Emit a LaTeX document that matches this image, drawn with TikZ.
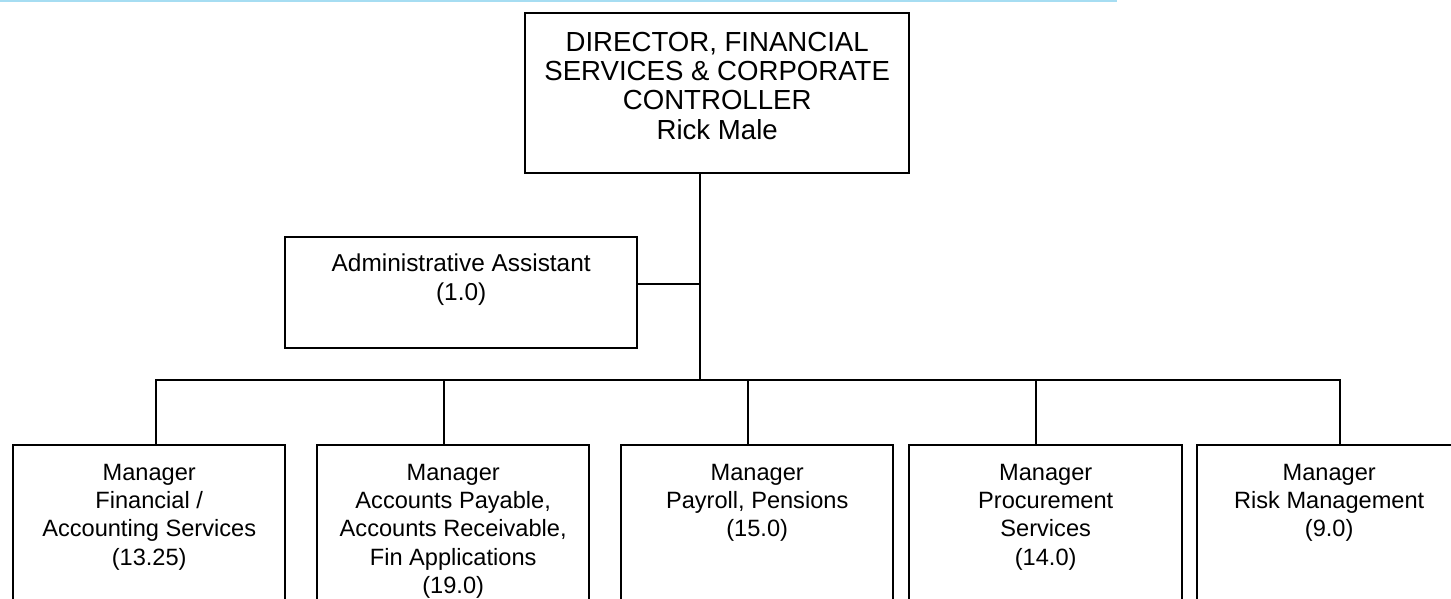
\documentclass[tikz,border=0pt]{standalone}
\usepackage{fontspec}
\setmainfont{Liberation Sans}
\usetikzlibrary{calc}
\definecolor{rulecyan}{RGB}{166,221,242}
\tikzset{post/.style={draw, line width=2.4pt, rectangle, inner sep=0pt, anchor=north west},
  post text/.style={align=center, inner sep=0pt, anchor=north, font=\postfont},
  link/.style={line width=2.4pt, line cap=rect}}
% box with its lines hung from the top: the first baseline sits \postdrop below the edge
\def\Post#1#2#3#4#5#6{%
  \node[post, minimum width=#4pt, minimum height=#5pt] (#1) at (#2,#3) {};
  \node[post text] (#1 text) at ($(#1.north)+(0,\postdrop-22)$) {\rule{0pt}{22pt}#6};
}
\begin{document}
\begin{tikzpicture}[x=1pt, y=-1pt]
\useasboundingbox (0,0) rectangle (1451,598);
\clip (0,0) rectangle (1451,598);
\fill[rulecyan] (0,0) rectangle (1117,1.6);
% director
\def\postfont{\fontsize{27.6}{29.3}\selectfont}
\def\postdrop{39}
\Post{dir}{524}{12}{384}{160}{DIRECTOR, FINANCIAL\\SERVICES \& CORPORATE\\CONTROLLER\\Rick Male}
% assistant
\def\postfont{\fontsize{24.4}{29}\selectfont}
\def\postdrop{35.7}
\Post{adm}{284}{236}{352}{111}{Administrative Assistant\\(1.0)}
% managers
\def\postfont{\fontsize{23.6}{28.3}\selectfont}
\def\postdrop{36}
\Post{m1}{12}{444}{272}{200}{Manager\\Financial /\\Accounting Services\\(13.25)}
\Post{m2}{316}{444}{272}{200}{Manager\\Accounts Payable,\\Accounts Receivable,\\Fin Applications\\(19.0)}
\Post{m3}{620}{444}{272}{200}{Manager\\Payroll, Pensions\\(15.0)}
\Post{m4}{908}{444}{273}{200}{Manager\\Procurement\\Services\\(14.0)}
\Post{m5}{1196}{444}{264}{200}{Manager\\Risk Management\\(9.0)}
% lines
\coordinate (hub) at (700,380);
\coordinate (adm hook) at (700,284);
\draw[link] (hub |- dir.south) -- (hub);
\draw[link] (adm hook) -- (adm hook -| adm.east);
\foreach \i/\x in {1/156,2/444,3/748,4/1036,5/1340} {
  \coordinate (j\i) at (\x,380);
  \draw[link] (j\i) -- (j\i |- m\i.north);
}
\draw[link] (j1) -- (j5);
\end{tikzpicture}
\end{document}
